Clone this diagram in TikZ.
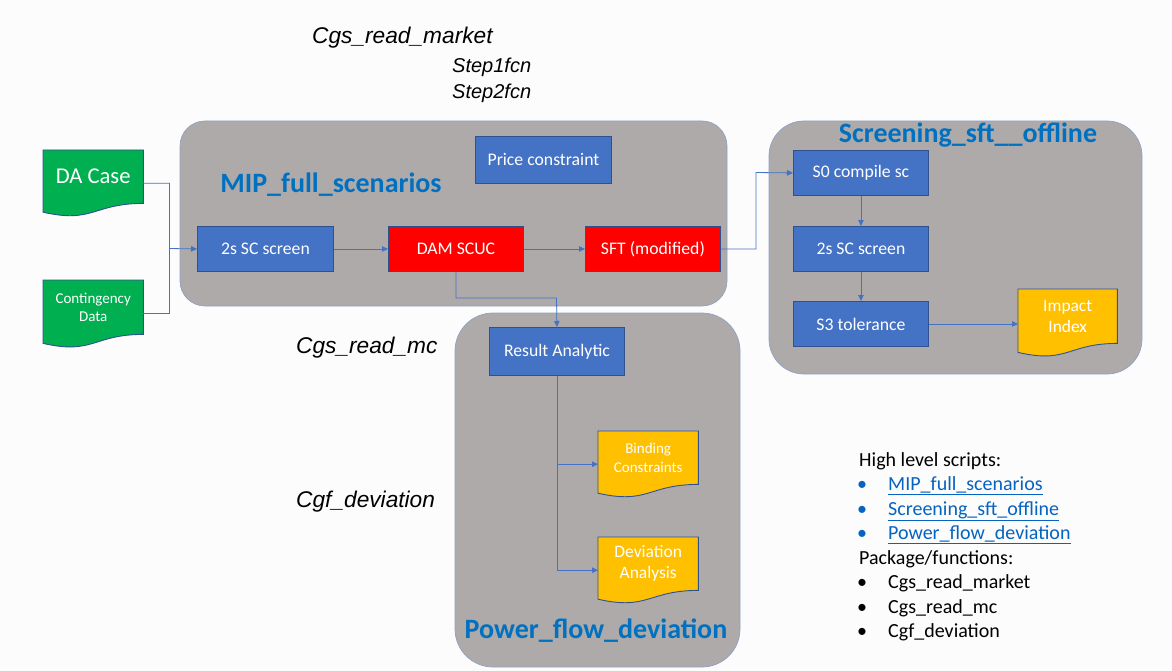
\documentclass[tikz,border=0pt]{standalone}
\usepackage{fontspec}
\setmainfont{Carlito}
\newfontfamily\arialfont{Liberation Sans}
\usetikzlibrary{calc,arrows.meta}
\pgfdeclarelayer{page}
\pgfdeclarelayer{bg}
\pgfdeclarelayer{docfill}
\pgfsetlayers{page,bg,docfill,main}
\definecolor{boxblue}{HTML}{4472C4}
\definecolor{edgeblue}{HTML}{2F528F}
\definecolor{lineblue}{HTML}{4472C4}
\definecolor{boxred}{HTML}{FF0000}
\definecolor{docgreen}{HTML}{00B050}
\definecolor{docyellow}{HTML}{FFC000}
\definecolor{contgray}{HTML}{AEAAAA}
\definecolor{contedge}{HTML}{8FA2C4}
\definecolor{titleblue}{HTML}{0070C0}
\definecolor{linkblue}{HTML}{0563C1}
\definecolor{pagebg}{HTML}{FCFCFC}
\newcommand{\docshape}[2]{%
  \begin{pgfonlayer}{docfill}
  \path[fill=#2, draw=edgeblue, line width=0.9pt] let \p1=(#1.north west), \p2=(#1.south east), \n1={\y1-\y2}, \n2={(\x1+\x2)/2} in
   (\x1,\y1) -- (\x2,\y1) -- (\x2,\y2) .. controls ({\n2*1pt},\y2) and ({\n2*1pt},{\y1-1.380*\n1*1pt}) .. (\x1,{\y1-1.1646*\n1*1pt}) -- cycle;
  \end{pgfonlayer}}
\tikzset{
  procbox/.style={rectangle, fill=boxblue, draw=edgeblue, line width=0.9pt, text=white, anchor=north west, inner sep=2pt, align=center, font=\fontsize{17.7}{21}\selectfont},
  redbox/.style={procbox, fill=boxred},
  docbody/.style={rectangle, draw=none, text=white, anchor=north west, inner sep=1pt, align=center},
  container/.style={fill=contgray, draw=contedge, line width=0.7pt},
  conn/.style={draw=lineblue, line width=0.8pt, -{Triangle[length=6pt,width=5.5pt]}},
  plainline/.style={draw=lineblue, line width=0.8pt},
  title/.style={text=titleblue, anchor=base, font=\bfseries\fontsize{28}{31}\selectfont},
  fnlabel/.style={anchor=base west, inner sep=0pt, font=\arialfont\itshape\fontsize{22.7}{26}\selectfont},
  steplabel/.style={anchor=base west, inner sep=0pt, font=\arialfont\itshape\fontsize{20}{24}\selectfont},
  legend/.style={anchor=base west, inner sep=0pt, font=\fontsize{20}{24}\selectfont},
}
\begin{document}
\begin{tikzpicture}[x=1pt,y=-1pt]
\useasboundingbox (0,0) rectangle (1172,671);
\begin{pgfonlayer}{page}
\fill[pagebg] (0,0) rectangle (1172,671);
\end{pgfonlayer}

% containers
\begin{pgfonlayer}{bg}
\draw[container, rounded corners=25pt] (180,121) rectangle (727,306);
\draw[container, rounded corners=35pt] (769,121) rectangle (1142,374);
\draw[container, rounded corners=38pt] (455,313) rectangle (740,667);
\end{pgfonlayer}

% container titles
\node[title] (tmip) at (331,193) {MIP\_full\_scenarios};
\node[title] (tscr) at (968,143) {Screening\_sft\_\_offline};
\node[title] (tpow) at (596,638) {Power\_flow\_deviation};

% process boxes
\node[procbox, minimum width=136pt, minimum height=47pt] (price) at (475,136) {Price constraint};
\node[procbox, minimum width=136pt, minimum height=45pt] (sc1) at (197,226) {2s SC screen};
\node[redbox, minimum width=135pt, minimum height=45pt] (dam) at (388,226) {DAM SCUC};
\node[redbox, minimum width=135pt, minimum height=45pt] (sft) at (585,226) {SFT (modified)};
\node[procbox, minimum width=135pt, minimum height=45pt] (s0) at (793,150) {S0 compile sc};
\node[procbox, minimum width=135pt, minimum height=45pt] (s2) at (793,226) {2s SC screen};
\node[procbox, minimum width=135pt, minimum height=45pt] (s3) at (793,301) {S3 tolerance};
\node[procbox, minimum width=135pt, minimum height=48pt] (ra) at (489,327) {Result Analytic};

% documents
\node[docbody, minimum width=100pt, minimum height=53pt, font=\fontsize{22.6}{26}\selectfont] (da) at (43,150) {DA Case};
\docshape{da}{docgreen}
\node[docbody, minimum width=100pt, minimum height=54pt, font=\fontsize{15}{18}\selectfont] (cd) at (43,280) {Contingency\\Data};
\docshape{cd}{docgreen}
\node[docbody, minimum width=99pt, minimum height=54pt, font=\fontsize{17.4}{21}\selectfont] (imp) at (1018,289) {Impact\\Index};
\docshape{imp}{docyellow}
\node[docbody, minimum width=100pt, minimum height=53pt, font=\fontsize{15}{19}\selectfont] (bind) at (598,431) {Binding\\Constraints};
\docshape{bind}{docyellow}
\node[docbody, minimum width=100pt, minimum height=53pt, font=\fontsize{17.5}{21}\selectfont] (dev) at (598,537) {Deviation\\Analysis};
\docshape{dev}{docyellow}

% junctions
\coordinate (j1) at (169.5,248.5);
\coordinate (j2) at (756,172.5);
\coordinate (j3) at (556.5,298);

% connectors
\draw[conn] ([yshift=-6.5pt]da.east) -| (j1) -- (sc1.west);
\draw[plainline] ([yshift=-6.6pt]cd.east) -| (j1);
\draw[conn] (sc1.east) -- (dam.west);
\draw[conn] (dam.east) -- (sft.west);
\draw[conn] (sft.east) -| (j2) -- (s0.west);
\draw[conn] (dam.south) |- (j3) -- (ra.north);
\draw[conn] (ra.south) |- ([yshift=-6.5pt]bind.west);
\draw[conn] (ra.south) |- ([yshift=-6.5pt]dev.west);
\draw[conn] (s0.south) -- (s2.north);
\draw[conn] (s2.south) -- (s3.north);
\draw[conn] (s3.east) -- (s3.east -| imp.west);

% function labels
\node[fnlabel] (lmarket) at (312,44) {Cgs\_read\_market};
\node[steplabel] (lstep1) at (452,73) {Step1fcn};
\node[steplabel] (lstep2) at (452,99) {Step2fcn};
\node[fnlabel] (lmc) at (296,353) {Cgs\_read\_mc};
\node[fnlabel] (ldev) at (296,507) {Cgf\_deviation};

% legend
\node[legend] (lg0) at (859,466) {High level scripts:};
\node[legend, text=linkblue] (lb1) at (857,490.5) {•};
\node[legend, text=linkblue] (lg1) at (888,490.5) {\underline{MIP\_full\_scenarios}};
\node[legend, text=linkblue] (lb2) at (857,515) {•};
\node[legend, text=linkblue] (lg2) at (888,515) {\underline{Screening\_sft\_offline}};
\node[legend, text=linkblue] (lb3) at (857,539.5) {•};
\node[legend, text=linkblue] (lg3) at (888,539.5) {\underline{Power\_flow\_deviation}};
\node[legend] (lg4) at (859,564) {Package/functions:};
\node[legend] (lb4) at (857,588.5) {•};
\node[legend] (lg5) at (888,588.5) {Cgs\_read\_market};
\node[legend] (lb5) at (857,613) {•};
\node[legend] (lg6) at (888,613) {Cgs\_read\_mc};
\node[legend] (lb6) at (857,637.5) {•};
\node[legend] (lg7) at (888,637.5) {Cgf\_deviation};
\end{tikzpicture}
\end{document}
